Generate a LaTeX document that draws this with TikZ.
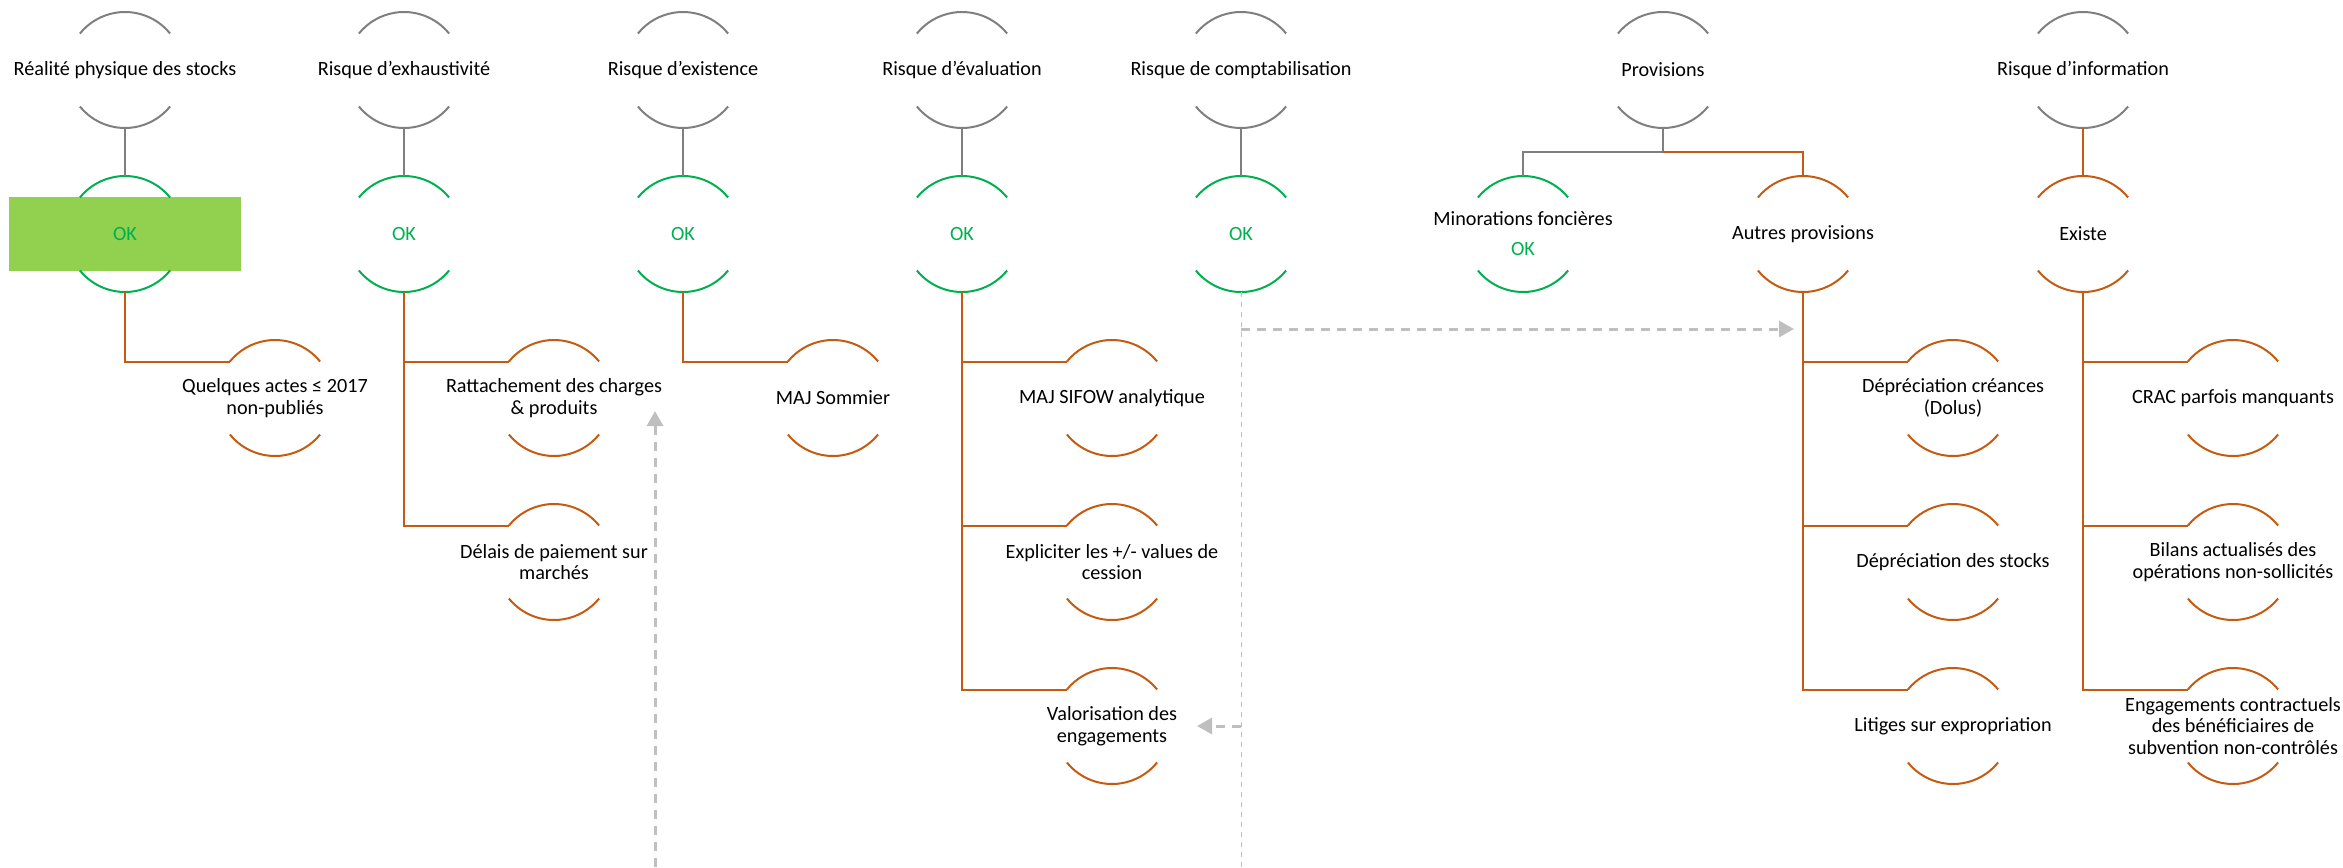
\documentclass[tikz,border=0pt]{standalone}
\usepackage{fontspec}
\setmainfont{Carlito}
\usetikzlibrary{positioning, calc, arrows.meta, backgrounds}

\definecolor{gris}{HTML}{7F7F7F}
\definecolor{vert}{HTML}{00B050}
\definecolor{brique}{HTML}{C55A11}
\definecolor{vertclair}{HTML}{92D050}
\definecolor{grisclair}{HTML}{BFBFBF}

\newcommand{\rayon}{1.16cm}
\newcommand{\demiarcs}[2]{%
  \draw[#1] (#2.center) ++(39:\rayon) arc[start angle=39, end angle=141, radius=\rayon]
            (#2.center) ++(219:\rayon) arc[start angle=219, end angle=321, radius=\rayon];}

\begin{document}
\begin{tikzpicture}[node distance=3.28cm and 5.58cm, on grid,
                    bloc/.style={rectangle, minimum width=2.32cm, minimum height=2.32cm, inner sep=0pt, outer sep=0pt},
                    okbloc/.style={bloc, text=vert},
                    every node/.style={font=\fontsize{11.5}{12.2}\selectfont},
                    every text node part/.style={align=center},
                    lgris/.style={draw=gris, line width=0.04cm},
                    lvert/.style={draw=vert, line width=0.04cm},
                    lbrique/.style={draw=brique, line width=0.04cm},
                    fleche/.style={draw=grisclair, line width=0.06cm, dash pattern=on 0.18cm off 0.14cm, -{Triangle[length=0.3cm, width=0.32cm]}},
                    pointille/.style={draw=grisclair, line width=0.02cm, dash pattern=on 0.1cm off 0.1cm}]
\useasboundingbox (0,0) rectangle (46.86,-17.34);

% risk nodes
\node[bloc] (phys) at (2.5,-1.4) {Réalité physique des stocks};
\node[bloc] (exh) [right=of phys] {Risque d’exhaustivité};
\node[bloc] (exi) [right=of exh] {Risque d’existence};
\node[bloc] (eval) [right=of exi] {Risque d’évaluation};
\node[bloc] (compta) [right=of eval] {Risque de comptabilisation};
\node[bloc] (prov) [right=8.44cm of compta] {Provisions};
\node[bloc] (info) [right=8.4cm of prov] {Risque d’information};

% status nodes
\node[okbloc] (ok1) [below=of phys] {OK};
\node[okbloc] (ok2) [below=of exh] {OK};
\node[okbloc] (ok3) [below=of exi] {OK};
\node[okbloc] (ok4) [below=of eval] {OK};
\node[okbloc] (ok5) [below=of compta] {OK};
\node[bloc] (minor) [below left=3.28cm and 2.8cm of prov] {Minorations foncières\\[4.8pt]\textcolor{vert}{OK}};
\node[bloc] (autres) [below right=3.28cm and 2.8cm of prov] {Autres provisions};
\node[bloc] (existe) [below=of info] {Existe};

% point nodes
\node[bloc] (actes) [below right=3.28cm and 3cm of ok1] {Quelques actes ≤ 2017\\non-publiés};
\node[bloc] (ratt) [below right=3.28cm and 3cm of ok2] {Rattachement des charges\\\& produits};
\node[bloc] (delais) [below=of ratt] {Délais de paiement sur\\marchés};
\node[bloc] (somm) [below right=3.28cm and 3cm of ok3] {MAJ Sommier};
\node[bloc] (sifow) [below right=3.28cm and 3cm of ok4] {MAJ SIFOW analytique};
\node[bloc] (plusv) [below=of sifow] {Expliciter les +/- values de\\cession};
\node[bloc] (valo) [below=of plusv] {Valorisation des\\engagements};
\node[bloc] (creances) [below right=3.28cm and 3cm of autres] {Dépréciation créances\\(Dolus)};
\node[bloc] (stocks) [below=of creances] {Dépréciation des stocks};
\node[bloc] (litiges) [below=of stocks] {Litiges sur expropriation};
\node[bloc] (crac) [below right=3.28cm and 3cm of existe] {CRAC parfois manquants};
\node[bloc] (bilans) [below=of crac] {Bilans actualisés des\\opérations non-sollicités};
\node[bloc] (engag) [below=of bilans] {Engagements contractuels\\des bénéficiaires de\\subvention non-contrôlés};

% highlight
\begin{scope}[on background layer]
\fill[vertclair] ($(ok1.center)+(-2.32,-0.74)$) rectangle ($(ok1.center)+(2.32,0.74)$);
\end{scope}

% arcs
\foreach \n in {phys, exh, exi, eval, compta, prov, info} {\demiarcs{lgris}{\n}}
\foreach \n in {ok1, ok2, ok3, ok4, ok5, minor} {\demiarcs{lvert}{\n}}
\foreach \n in {autres, existe, actes, ratt, delais, somm, sifow, plusv, valo,
                creances, stocks, litiges, crac, bilans, engag} {\demiarcs{lbrique}{\n}}

% edges
\foreach \r/\k in {phys/ok1, exh/ok2, exi/ok3, eval/ok4, compta/ok5}
  \draw[lgris] (\r.south) -- (\k.north);
\draw[lgris] (prov.south) -- ++(0,-0.48) coordinate (jonction) -| (minor.north);
\draw[lbrique] (jonction) -| (autres.north);
\draw[lbrique] (info.south) -- (existe.north);
\foreach \p/\e in {ok1/actes, ok2/ratt, ok2/delais, ok3/somm, ok4/sifow, ok4/plusv, ok4/valo,
                   autres/creances, autres/stocks, autres/litiges, existe/crac, existe/bilans, existe/engag}
  \draw[lbrique] (\p.south) |- ($(\e.center)+(141:\rayon)$);

% dashed links
\coordinate (basf) at (13.1,-17.34);
\coordinate (hautf) at (13.1,-8.22);
\coordinate (depart) at ($(ok5.south)+(0,-0.74)$);
\draw[fleche] (basf) -- (hautf);
\draw[pointille] (ok5.south) -- (ok5 |- basf);
\draw[fleche, shorten >=0.18cm] (depart) -- (depart -| autres);
\draw[fleche] (ok5 |- valo) -- ++(-0.88,0);

\end{tikzpicture}
\end{document}
